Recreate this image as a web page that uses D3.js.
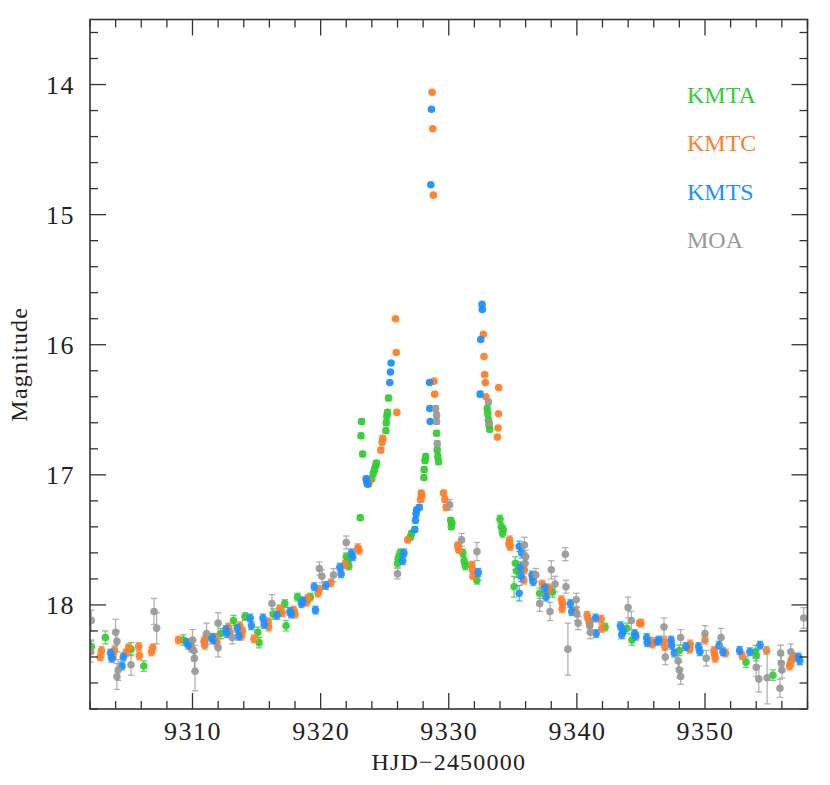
<!DOCTYPE html>
<html><head><meta charset="utf-8">
<script src="https://cdn.jsdelivr.net/npm/d3@7/dist/d3.min.js"></script>
<style>body{margin:0;background:#fff}svg{display:block}</style>
</head><body>
<svg id="c" width="830" height="785"></svg>
<script>
// [HJD-2450000, magnitude, error]
const kmtaData = [
[9302.1,18.32,0.05],[9303.2,18.25,0.05],[9305.2,18.34,0.05],[9306.2,18.47,0.04],[9309.3,18.27,0.04],
[9312.2,18.22,0.04],[9313.2,18.12,0.04],[9314.1,18.09,0.03],[9315.1,18.21,0.04],[9315.2,18.29,0.04],
[9316.3,18.07,0.04],[9317.2,17.99,0.03],[9317.3,18.16,0.04],[9318.2,17.94,0.03],[9318.7,17.97,0.03],
[9319.2,17.94,0.03],[9322.0,17.63,0.03],[9322.1,17.66,0.03],[9322.2,17.70,0.03],
[9323.09,17.33,0.02],[9323.15,16.70,0.02],[9323.2,16.59,0.02],[9323.28,16.84,0.02],
[9324.0,17.03,0.02],[9324.1,16.99,0.02],[9324.2,16.96,0.02],[9324.3,16.93,0.02],[9324.35,16.91,0.02],
[9325.1,16.66,0.02],[9325.12,16.60,0.02],[9325.17,16.55,0.02],[9325.22,16.52,0.02],[9325.3,16.41,0.02],
[9326.0,17.68,0.03],[9326.06,17.64,0.03],[9326.2,17.60,0.03],[9327.1,17.45,0.02],[9327.0,17.48,0.02],
[9328.06,17.02,0.02],[9328.08,16.96,0.02],[9328.15,16.89,0.02],[9328.2,16.86,0.02],
[9329.05,16.68,0.02],[9329.1,16.81,0.02],[9329.15,16.86,0.02],[9329.2,16.90,0.02],
[9330.15,17.35,0.02],[9330.2,17.40,0.02],[9330.25,17.37,0.02],[9331.1,17.60,0.03],[9331.2,17.66,0.03],[9331.3,17.70,0.03],
[9332.2,17.81,0.03],[9333.0,16.49,0.02],[9333.05,16.53,0.02],[9333.1,16.58,0.02],[9333.15,16.62,0.02],[9333.2,16.65,0.02],
[9334.0,17.34,0.03],[9334.1,17.40,0.03],[9334.2,17.45,0.03],[9334.25,17.42,0.03],
[9335.2,17.68,0.05],[9335.1,17.86,0.08],[9335.3,17.74,0.05],[9337.1,17.91,0.04],[9338.1,17.90,0.04],
[9342.2,18.17,0.03],[9343.9,18.18,0.04],[9344.3,18.27,0.04],[9348.0,18.35,0.04],
[9353.2,18.44,0.04],[9353.95,18.36,0.05],[9354.0,18.39,0.04],[9355.3,18.54,0.04]
];
const kmtcData = [
[9302.8,18.40,0.03],[9302.9,18.35,0.03],[9303.8,18.40,0.03],[9303.9,18.35,0.03],[9304.8,18.37,0.03],
[9305.0,18.33,0.03],[9305.8,18.32,0.03],[9305.85,18.39,0.03],[9306.8,18.36,0.03],[9306.9,18.33,0.03],
[9308.9,18.27,0.03],[9309.8,18.30,0.03],[9309.9,18.33,0.03],[9310.9,18.28,0.03],[9311.0,18.26,0.03],
[9310.95,18.31,0.03],[9311.8,18.25,0.03],[9311.9,18.29,0.03],[9312.8,18.17,0.03],[9312.9,18.21,0.03],
[9313.7,18.16,0.03],[9313.9,18.20,0.03],[9313.8,18.24,0.03],
[9314.8,18.26,0.03],[9315.9,18.13,0.03],[9315.95,18.17,0.03],[9316.8,18.03,0.03],[9317.0,18.06,0.03],[9317.9,18.04,0.03],
[9318.0,18.07,0.03],[9318.9,17.98,0.03],[9319.0,17.95,0.03],[9319.8,17.91,0.03],[9319.9,17.88,0.03],
[9320.8,17.83,0.03],[9321.9,17.69,0.03],[9322.9,17.56,0.03],[9323.0,17.58,0.03],
[9323.75,17.07,0.02],[9323.8,17.05,0.02],[9324.7,16.81,0.02],[9324.8,16.75,0.02],[9324.85,16.72,0.02],
[9325.85,15.80,0.01],[9325.9,16.06,0.01],[9325.95,16.52,0.01],[9326.8,17.50,0.02],
[9327.8,17.19,0.02],[9327.85,17.14,0.02],[9327.9,17.16,0.02],
[9328.7,14.06,0.01],[9328.75,14.34,0.01],[9328.8,14.85,0.01],[9328.84,16.28,0.01],[9328.9,16.38,0.01],
[9329.6,17.14,0.02],[9329.7,17.19,0.02],[9329.8,17.25,0.02],[9330.7,17.54,0.02],[9330.75,17.56,0.02],[9330.8,17.58,0.02],
[9331.8,17.69,0.02],[9331.9,17.78,0.02],[9331.85,17.73,0.02],
[9332.7,15.92,0.01],[9332.75,16.09,0.01],[9332.8,16.23,0.01],[9332.85,16.29,0.01],[9332.9,16.40,0.01],
[9333.9,16.33,0.01],[9333.88,16.53,0.01],[9333.85,16.64,0.01],[9333.8,16.71,0.01],
[9334.7,17.53,0.03],[9334.75,17.50,0.03],[9334.8,17.55,0.03],[9335.8,17.71,0.03],[9335.85,17.81,0.03],
[9335.9,17.73,0.03],[9337.3,17.84,0.03],[9337.7,17.90,0.03],[9337.8,17.87,0.03],
[9338.8,17.96,0.03],[9338.85,18.03,0.03],[9338.9,17.99,0.03],[9339.9,18.05,0.03],
[9340.8,18.08,0.03],[9340.9,18.11,0.03],[9341.0,18.14,0.03],[9341.9,18.11,0.03],[9341.95,18.18,0.03],
[9344.9,18.14,0.02],[9345.0,18.14,0.03],[9345.8,18.28,0.03],[9345.9,18.30,0.03],[9346.8,18.28,0.03],[9346.85,18.32,0.03],
[9348.8,18.34,0.03],[9348.85,18.30,0.03],[9350.0,18.27,0.03],[9350.7,18.35,0.03],[9350.75,18.38,0.03],[9350.8,18.41,0.03],
[9351.6,18.37,0.03],[9352.9,18.39,0.03],[9354.8,18.35,0.03],
[9356.6,18.47,0.03],[9356.7,18.44,0.03],[9356.8,18.41,0.03],[9357.0,18.40,0.03]
];
const kmtsData = [
[9303.6,18.37,0.03],[9303.7,18.41,0.03],[9304.5,18.47,0.03],[9304.6,18.40,0.03],
[9309.6,18.29,0.03],[9309.7,18.31,0.03],[9311.5,18.25,0.03],[9311.6,18.27,0.03],
[9312.6,18.19,0.03],[9312.7,18.22,0.03],[9313.5,18.18,0.03],[9313.6,18.24,0.03],
[9314.5,18.10,0.03],[9314.6,18.16,0.03],[9315.5,18.10,0.03],[9315.6,18.15,0.03],
[9316.6,18.08,0.03],[9317.6,18.05,0.03],[9317.7,18.07,0.03],[9318.5,17.99,0.03],[9318.6,17.97,0.03],
[9319.5,17.86,0.03],[9319.6,18.04,0.03],[9320.4,17.85,0.03],[9321.5,17.71,0.03],[9321.6,17.76,0.03],
[9322.4,17.60,0.03],[9322.5,17.63,0.03],
[9323.55,17.03,0.02],[9323.6,17.05,0.02],[9323.65,17.07,0.02],
[9325.4,16.29,0.01],[9325.45,16.21,0.01],[9325.5,16.14,0.01],
[9326.4,17.66,0.03],[9326.5,17.60,0.03],[9327.35,17.42,0.02],[9327.4,17.35,0.02],[9327.45,17.30,0.02],
[9327.5,17.27,0.02],[9327.7,17.25,0.02],
[9328.65,14.19,0.01],[9328.6,14.77,0.01],[9328.5,16.29,0.01],[9328.52,16.49,0.01],[9328.55,16.59,0.01],
[9332.3,17.75,0.03],[9332.6,15.69,0.01],[9332.62,15.73,0.01],[9332.5,15.96,0.01],[9332.45,16.38,0.02],
[9335.5,17.55,0.04],[9335.7,17.60,0.04],[9335.6,17.71,0.04],[9335.65,17.78,0.04],[9335.5,17.91,0.06],
[9336.55,17.80,0.03],[9336.6,17.82,0.03],[9336.5,17.77,0.03],[9337.5,17.87,0.03],[9337.6,17.94,0.03],
[9339.5,17.99,0.03],[9339.6,18.05,0.03],[9341.45,18.10,0.03],[9341.5,18.22,0.03],
[9343.4,18.16,0.03],[9343.5,18.23,0.03],[9343.6,18.20,0.03],[9344.5,18.22,0.03],[9344.6,18.24,0.03],
[9345.45,18.25,0.03],[9345.5,18.29,0.03],[9346.3,18.28,0.03],[9346.4,18.27,0.03],
[9347.35,18.27,0.03],[9347.4,18.31,0.03],[9347.6,18.37,0.03],[9348.5,18.32,0.03],
[9349.5,18.32,0.03],[9349.6,18.36,0.03],[9351.1,18.31,0.03],[9351.4,18.36,0.03],
[9352.7,18.35,0.03],[9353.5,18.36,0.03],[9354.3,18.31,0.03],[9357.3,18.40,0.03],[9357.4,18.43,0.03]
];
const moaData = [
[9302.1,18.12,0.08],[9302.05,18.36,0.08],[9304.0,18.21,0.10],[9304.1,18.28,0.08],[9304.2,18.50,0.08],
[9304.1,18.55,0.10],[9305.2,18.46,0.08],[9307.0,18.05,0.10],[9307.2,18.18,0.12],
[9310.0,18.27,0.08],[9310.1,18.35,0.08],[9310.15,18.41,0.10],[9310.2,18.51,0.15],
[9311.1,18.22,0.08],[9312.0,18.14,0.08],[9312.0,18.33,0.07],[9313.1,18.25,0.05],[9316.2,17.99,0.07],
[9319.9,17.72,0.05],[9320.1,17.78,0.05],[9321.0,17.77,0.05],[9322.0,17.52,0.05],[9326.0,17.76,0.04],
[9328.97,16.49,0.02],[9329.05,16.54,0.02],[9329.05,16.59,0.02],[9329.1,16.76,0.02],
[9330.07,17.23,0.04],[9331.0,17.50,0.05],[9332.2,17.59,0.07],[9333.1,16.44,0.02],[9333.15,16.60,0.02],
[9335.9,17.54,0.06],[9336.0,17.63,0.05],[9335.95,17.68,0.05],[9336.8,17.77,0.05],[9337.1,17.99,0.06],
[9338.0,17.73,0.07],[9337.9,18.05,0.07],[9338.3,17.84,0.06],[9339.1,17.61,0.05],[9339.15,17.86,0.05],
[9339.3,18.34,0.20],[9339.95,17.96,0.05],[9340.0,18.07,0.05],[9340.1,18.14,0.05],
[9341.0,18.16,0.05],[9341.05,18.21,0.05],[9344.0,18.02,0.08],[9344.25,18.12,0.07],
[9346.8,18.17,0.07],[9346.9,18.40,0.06],[9347.9,18.43,0.06],[9348.1,18.55,0.06],[9348.0,18.50,0.06],
[9348.1,18.25,0.06],[9350.0,18.22,0.06],[9350.1,18.41,0.06],[9351.25,18.25,0.07],
[9354.0,18.48,0.07],[9354.2,18.57,0.10],[9354.85,18.56,0.20],[9355.9,18.37,0.06],[9355.95,18.45,0.06],
[9356.0,18.50,0.06],[9355.85,18.64,0.07],[9356.7,18.36,0.06],[9357.7,18.10,0.08]
];
const seriesNames = ["KMTA","KMTC","KMTS","MOA"];
const seriesColors = ["#33cc33","#ff7f2a","#1e90ff","#999999"];
const xTicks = [9310,9320,9330,9340,9350];
const yTicks = [14,15,16,17,18];
const xDomain = [9302,9358];
const yDomain = [13.5,18.8];
const xLabel = "HJD\u22122450000";
const yLabel = "Magnitude";

const svg = d3.select("#c");
const L=90, R=807.5, T=19.5, B=709;
const x = d3.scaleLinear().domain(xDomain).range([L,R]);
const y = d3.scaleLinear().domain(yDomain).range([T,B]);
const font = "'Liberation Serif', 'Times New Roman', serif";

svg.append("defs").append("clipPath").attr("id","clip")
  .append("rect").attr("x",L).attr("y",T).attr("width",R-L).attr("height",B-T);

const all = [kmtaData,kmtcData,kmtsData,moaData];
const plot = svg.append("g").attr("clip-path","url(#clip)");
all.forEach((data,i)=>{
  const g = plot.append("g");
  const col = seriesColors[i];
  const eb = g.append("g").attr("stroke",col).attr("stroke-opacity",0.75).attr("stroke-width",1.3);
  data.forEach(d=>{
    const px=x(d[0]), y1=y(d[1]-d[2]), y2=y(d[1]+d[2]);
    eb.append("line").attr("x1",px).attr("x2",px).attr("y1",y1).attr("y2",y2);
    eb.append("line").attr("x1",px-3.2).attr("x2",px+3.2).attr("y1",y1).attr("y2",y1);
    eb.append("line").attr("x1",px-3.2).attr("x2",px+3.2).attr("y1",y2).attr("y2",y2);
  });
  g.selectAll("circle").data(data).join("circle")
    .attr("cx",d=>x(d[0])).attr("cy",d=>y(d[1])).attr("r",3.8)
    .attr("fill",col).attr("fill-opacity",0.92);
});

// axes with inner ticks on all four sides
const axCol = "#333";
const axG = svg.append("g").attr("stroke",axCol).attr("stroke-width",1.3);
const xMinor = d3.range(9302,9358.01,2);
const yMinor = d3.range(13.6,18.81,0.2).map(v=>+v.toFixed(1));
xMinor.forEach(t=>{
  const major = xTicks.includes(t);
  const len = major?16:8;
  axG.append("line").attr("x1",x(t)).attr("x2",x(t)).attr("y1",B).attr("y2",B-len);
  axG.append("line").attr("x1",x(t)).attr("x2",x(t)).attr("y1",T).attr("y2",T+len);
});
yMinor.forEach(m=>{
  const major = yTicks.includes(m);
  const len = major?16:8;
  axG.append("line").attr("x1",L).attr("x2",L+len).attr("y1",y(m)).attr("y2",y(m));
  axG.append("line").attr("x1",R).attr("x2",R-len).attr("y1",y(m)).attr("y2",y(m));
});
svg.append("rect").attr("x",L).attr("y",T).attr("width",R-L).attr("height",B-T)
  .attr("fill","none").attr("stroke",axCol).attr("stroke-width",1.6);

// tick labels via d3 axes (ticks hidden)
const xAxis = d3.axisBottom(x).tickValues(xTicks).tickSize(0).tickPadding(0).tickFormat(d3.format("d"));
const gx = svg.append("g").attr("transform",`translate(0,${B})`).call(xAxis);
gx.select(".domain").remove();
gx.selectAll("text").attr("font-family",font).attr("font-size",26).attr("fill","#222")
  .attr("dy",null).attr("y",31).attr("letter-spacing",1.5);
const yAxis = d3.axisLeft(y).tickValues(yTicks).tickSize(0).tickPadding(0).tickFormat(d3.format("d"));
const gy = svg.append("g").attr("transform",`translate(${L-15},0)`).call(yAxis);
gy.select(".domain").remove();
gy.selectAll("text").attr("font-family",font).attr("font-size",26).attr("fill","#222")
  .attr("dy","0.33em").attr("letter-spacing",1.5);

svg.append("text").attr("x",(L+R)/2).attr("y",770).attr("text-anchor","middle")
  .attr("font-family",font).attr("font-size",24).attr("fill","#222").attr("letter-spacing",1.2).text(xLabel);
svg.append("text").attr("transform",`translate(27,${(T+B)/2}) rotate(-90)`).attr("text-anchor","middle")
  .attr("font-family",font).attr("font-size",24).attr("fill","#222").attr("letter-spacing",1.2).text(yLabel);

// legend
seriesNames.forEach((n,i)=>{
  svg.append("text").attr("x",687).attr("y",103+i*48.3)
    .attr("font-family",font).attr("font-size",24).attr("fill",seriesColors[i]).text(n);
});
</script>
</body></html>
